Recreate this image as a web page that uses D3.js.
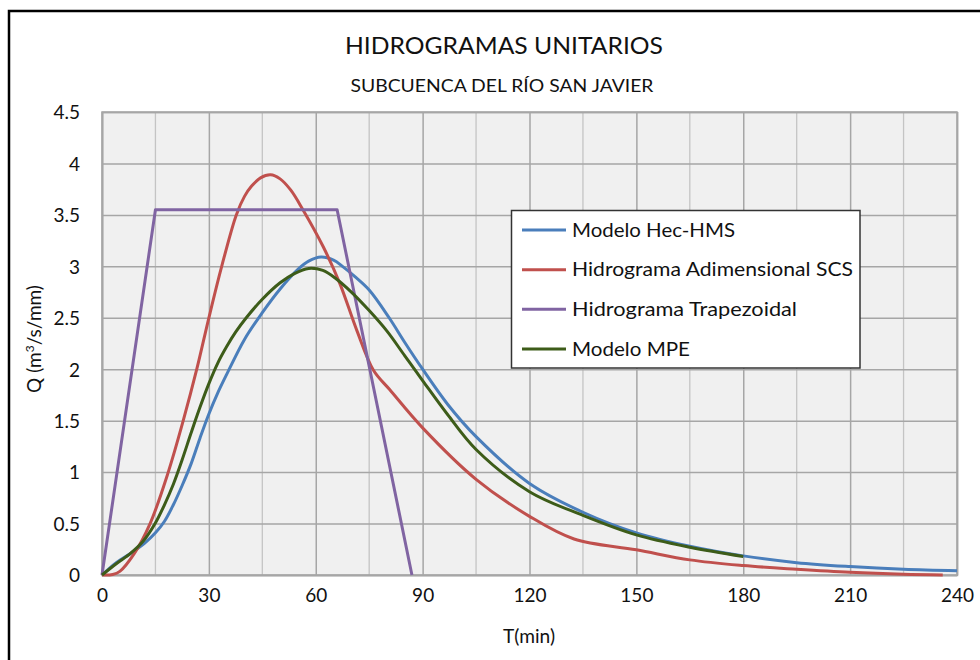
<!DOCTYPE html>
<html>
<head>
<meta charset="utf-8">
<script src="https://cdn.jsdelivr.net/npm/d3@7"></script>
<style>
  html, body { margin: 0; padding: 0; background: #ffffff; }
  svg { display: block; }
  text { font-family: Lato, "Open Sans", "Noto Sans", sans-serif; fill: #111; }
</style>
</head>
<body>
<svg id="chart" width="980" height="660"></svg>
<script>
// ---------------- DATA ----------------
const chartTitle = "HIDROGRAMAS UNITARIOS";
const chartSubtitle = "SUBCUENCA DEL RÍO SAN JAVIER";
const xAxisTitle = "T(min)";
const xTicks = [0, 30, 60, 90, 120, 150, 180, 210, 240];
const yTicks = [0, 0.5, 1, 1.5, 2, 2.5, 3, 3.5, 4, 4.5];
const seriesNames = ["Modelo Hec-HMS", "Hidrograma Adimensional SCS", "Hidrograma Trapezoidal", "Modelo MPE"];
const seriesColors = ["#4a7ebb", "#c0504d", "#8064a2", "#3d5c19"];

// Modelo Hec-HMS
const hmsT = [0, 4, 8, 12, 15, 17.5, 20, 22.5, 25, 27.5, 30, 32.5, 35, 40, 45, 50, 55, 58, 61.5, 65, 67.5, 71, 75, 80.6, 85, 90, 97, 105, 120, 135, 150, 165, 180, 195, 210, 225, 240];
const hmsQ = [0, 0.12, 0.21, 0.31, 0.41, 0.52, 0.68, 0.87, 1.08, 1.33, 1.565, 1.77, 1.95, 2.29, 2.55, 2.78, 2.97, 3.05, 3.09, 3.06, 3.0, 2.9, 2.77, 2.5, 2.26, 2.0, 1.66, 1.345, 0.89, 0.61, 0.41, 0.28, 0.186, 0.12, 0.082, 0.056, 0.042];

// Hidrograma Adimensional SCS
const scsT = [0, 3, 5, 8.9, 13.5, 18.6, 22.8, 26.6, 30, 33.6, 37.7, 40, 42, 44.5, 47.3, 50, 53, 56.4, 62.1, 66.8, 71.5, 76.2, 80.8, 90, 105, 120, 132.5, 150, 165, 180, 195, 210, 225, 236];
const scsQ = [0, 0.005, 0.035, 0.2, 0.5, 1.0, 1.5, 2.0, 2.5, 3.0, 3.5, 3.68, 3.78, 3.86, 3.89, 3.85, 3.74, 3.55, 3.19, 2.83, 2.38, 1.99, 1.8, 1.43, 0.93, 0.57, 0.35, 0.245, 0.147, 0.092, 0.056, 0.026, 0.007, 0.0];

// Hidrograma Trapezoidal
const trapT = [0, 15, 66, 87];
const trapQ = [0, 3.55, 3.55, 0];

// Modelo MPE
const mpeT = [0, 4, 8, 11.6, 14.9, 17.5, 20, 22.5, 25, 27.5, 30, 32.5, 35, 37.5, 40.5, 45, 50, 54, 58, 62, 65.7, 70, 75, 80, 85, 90, 97, 105, 120, 135, 150, 165, 180];
const mpeQ = [0, 0.11, 0.21, 0.33, 0.5, 0.68, 0.88, 1.12, 1.38, 1.63, 1.86, 2.06, 2.22, 2.36, 2.5, 2.68, 2.84, 2.93, 2.98, 2.96, 2.88, 2.75, 2.57, 2.37, 2.13, 1.89, 1.56, 1.22, 0.81, 0.58, 0.39, 0.27, 0.18];

// ---------------- CHART ----------------
const svg = d3.select("#chart");
const plot = { left: 102, right: 957, top: 112, bottom: 575 };

const x = d3.scaleLinear().domain([0, 240]).range([plot.left, plot.right]);
const y = d3.scaleLinear().domain([0, 4.5]).range([plot.bottom, plot.top]);

// outer frame (cut off at right / bottom)
svg.append("path")
  .attr("d", `M9,700 L9,11 L990,11`)
  .attr("fill", "none").attr("stroke", "#000").attr("stroke-width", 2.5);

// plot background
svg.append("rect")
  .attr("x", plot.left).attr("y", plot.top)
  .attr("width", plot.right - plot.left).attr("height", plot.bottom - plot.top)
  .attr("fill", "#f0f0f0");

// minor vertical gridlines (every 15 min)
const minorX = d3.range(15, 240, 30);
svg.append("g").selectAll("line").data(minorX).join("line")
  .attr("x1", d => x(d)).attr("x2", d => x(d))
  .attr("y1", plot.top).attr("y2", plot.bottom)
  .attr("stroke", "#c4c4c4").attr("stroke-width", 1.3);

// major gridlines via axes
const gx = svg.append("g")
  .attr("transform", `translate(0,${plot.bottom})`)
  .call(d3.axisBottom(x).tickValues(xTicks).tickSize(-(plot.bottom - plot.top)).tickPadding(14).tickFormat(d3.format("d")));
const gy = svg.append("g")
  .attr("transform", `translate(${plot.left},0)`)
  .call(d3.axisLeft(y).tickValues(yTicks).tickSize(-(plot.right - plot.left)).tickPadding(22).tickFormat(d => String(d)));

[gx, gy].forEach(g => {
  g.select(".domain").attr("stroke", "#a6a6a6").attr("stroke-width", 1.5);
  g.selectAll(".tick line").attr("stroke", "#a6a6a6").attr("stroke-width", 1.5);
  g.selectAll(".tick text").style("font-family", "Lato, 'Open Sans', sans-serif")
    .attr("font-size", 19).attr("fill", "#111");
});
gx.selectAll(".tick text").attr("dy", "0.71em");
gy.selectAll(".tick text").attr("dy", "0.36em");

// plot border (right & top)
svg.append("rect")
  .attr("x", plot.left).attr("y", plot.top)
  .attr("width", plot.right - plot.left).attr("height", plot.bottom - plot.top)
  .attr("fill", "none").attr("stroke", "#a6a6a6").attr("stroke-width", 1.5);

// series
const toPts = (ts, qs) => ts.map((t, i) => [t, qs[i]]);
const seriesData = [toPts(hmsT, hmsQ), toPts(scsT, scsQ), toPts(trapT, trapQ), toPts(mpeT, mpeQ)];
const smoothLine = d3.line().x(d => x(d[0])).y(d => y(d[1])).curve(d3.curveCatmullRom.alpha(0.5));
const straightLine = d3.line().x(d => x(d[0])).y(d => y(d[1]));

[0, 1, 2, 3].forEach(i => {
  svg.append("path")
    .datum(seriesData[i])
    .attr("d", i === 2 ? straightLine : smoothLine)
    .attr("fill", "none")
    .attr("stroke", seriesColors[i])
    .attr("stroke-width", 3)
    .attr("stroke-linejoin", "round")
    .attr("stroke-linecap", "butt");
});

// helper to fit text width
function fit(sel, w) {
  sel.attr("textLength", w).attr("lengthAdjust", "spacingAndGlyphs");
  return sel;
}

// titles
fit(svg.append("text").attr("x", 504).attr("y", 54).attr("text-anchor", "middle")
  .attr("font-size", 23).text(chartTitle), 318);
fit(svg.append("text").attr("x", 502).attr("y", 91.5).attr("text-anchor", "middle")
  .attr("font-size", 18).text(chartSubtitle), 303);

// axis titles
fit(svg.append("text").attr("x", 529).attr("y", 643).attr("text-anchor", "middle")
  .attr("font-size", 19).text(xAxisTitle), 52);

const yTitle = svg.append("text")
  .attr("transform", "translate(41,339) rotate(-90)")
  .attr("text-anchor", "middle")
  .attr("font-size", 19);
yTitle.append("tspan").text("Q (m");
yTitle.append("tspan").attr("font-size", 12).attr("dy", -7).text("3");
yTitle.append("tspan").attr("dy", 7).text("/s/mm)");

// legend
const lg = svg.append("g");
lg.append("rect").attr("x", 511.5).attr("y", 210.5).attr("width", 348.5).attr("height", 157.5)
  .attr("fill", "#ffffff").attr("stroke", "#333").attr("stroke-width", 1.5);
const legendRowY = d3.scalePoint().domain(d3.range(seriesNames.length)).range([230, 349]);
const legendWidths = [163, 281, 225, 118];
seriesNames.forEach((name, i) => {
  const yy = legendRowY(i);
  lg.append("line").attr("x1", 522).attr("x2", 566).attr("y1", yy).attr("y2", yy)
    .attr("stroke", seriesColors[i]).attr("stroke-width", 3);
  fit(lg.append("text").attr("x", 572).attr("y", yy + 6.5).attr("font-size", 19).text(name), legendWidths[i]);
});
</script>
</body>
</html>
